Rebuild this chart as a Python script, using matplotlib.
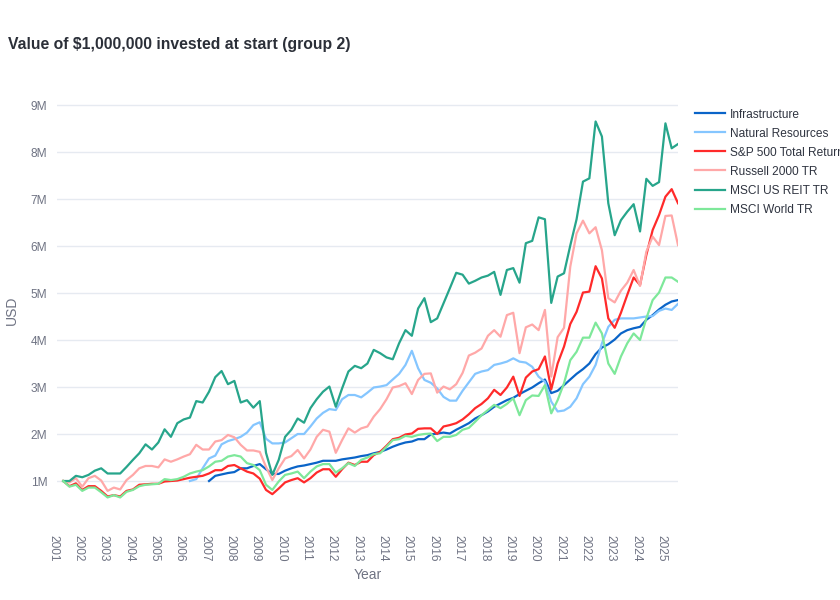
import matplotlib
matplotlib.use("Agg")
import matplotlib.pyplot as plt
import matplotlib.dates as mdates
from matplotlib.ticker import FixedLocator, FuncFormatter
from matplotlib.transforms import ScaledTranslation
import numpy as np
import pandas as pd

plt.rcParams['font.family'] = ['Liberation Sans', 'DejaVu Sans']

# quarter-end dates, values in millions of USD
quarters = pd.date_range("2001-03-31", periods=98, freq="QE")

infra_start = 23
infrastructure = [
    1.00, 1.11, 1.14, 1.17, 1.19, 1.27, 1.27,
    1.32, 1.36, 1.25, 1.15, 1.15, 1.22, 1.27, 1.31, 1.33, 1.36,
    1.39, 1.43, 1.43, 1.43, 1.46, 1.48, 1.50, 1.53, 1.55, 1.59,
    1.62, 1.67, 1.73, 1.78, 1.82, 1.84, 1.89, 1.89, 1.99, 2.01,
    2.03, 2.01, 2.09, 2.16, 2.23, 2.33, 2.40, 2.48, 2.58, 2.65,
    2.72, 2.77, 2.85, 2.92, 2.99, 3.08, 3.16, 2.87, 2.92, 3.04,
    3.16, 3.28, 3.38, 3.50, 3.70, 3.84, 3.91, 4.01, 4.14, 4.21,
    4.25, 4.28, 4.43, 4.53, 4.65, 4.75, 4.82, 4.85,
]

natres_start = 20
natural_resources = [
    1.00, 1.04, 1.27, 1.48, 1.54, 1.78, 1.85, 1.89, 1.94, 2.03,
    2.19, 2.25, 1.90, 1.80, 1.80, 1.82, 1.91, 2.00, 2.00, 2.16,
    2.33, 2.45, 2.53, 2.51, 2.74, 2.83, 2.83, 2.78, 2.88, 2.99,
    3.01, 3.04, 3.16, 3.28, 3.47, 3.77, 3.40, 3.15, 3.09, 2.97,
    2.79, 2.71, 2.71, 2.92, 3.10, 3.28, 3.33, 3.36, 3.47, 3.50,
    3.54, 3.61, 3.54, 3.52, 3.43, 3.22, 3.11, 2.69, 2.48, 2.50,
    2.58, 2.76, 3.06, 3.22, 3.47, 3.93, 4.28, 4.43, 4.46, 4.46,
    4.46, 4.48, 4.50, 4.51, 4.62, 4.67, 4.64, 4.77,
]

sp500 = [
    1.00, 0.89, 0.95, 0.81, 0.89, 0.89, 0.79, 0.67, 0.70, 0.67,
    0.79, 0.82, 0.92, 0.93, 0.94, 0.94, 0.99, 1.00, 1.01, 1.04,
    1.07, 1.09, 1.11, 1.16, 1.23, 1.23, 1.32, 1.34, 1.27, 1.20,
    1.16, 1.05, 0.81, 0.72, 0.84, 0.97, 1.02, 1.06, 0.97, 1.06,
    1.18, 1.25, 1.25, 1.09, 1.25, 1.39, 1.34, 1.41, 1.41, 1.55,
    1.62, 1.75, 1.89, 1.92, 1.99, 2.01, 2.11, 2.12, 2.12, 2.00,
    2.16, 2.19, 2.23, 2.31, 2.42, 2.55, 2.64, 2.76, 2.94, 2.83,
    2.99, 3.22, 2.81, 3.20, 3.33, 3.38, 3.65, 2.95, 3.50, 3.86,
    4.34, 4.60, 5.01, 5.03, 5.57, 5.31, 4.46, 4.26, 4.58, 4.96,
    5.33, 5.17, 5.81, 6.34, 6.66, 7.05, 7.21, 6.91,
]

russell2000 = [
    1.00, 0.97, 1.06, 0.88, 1.06, 1.11, 1.01, 0.79, 0.86, 0.82,
    1.02, 1.13, 1.27, 1.32, 1.32, 1.29, 1.46, 1.41, 1.46, 1.52,
    1.57, 1.77, 1.67, 1.67, 1.84, 1.87, 1.98, 1.93, 1.77, 1.65,
    1.65, 1.62, 1.30, 1.02, 1.27, 1.48, 1.53, 1.66, 1.48, 1.67,
    1.94, 2.09, 2.05, 1.60, 1.87, 2.12, 2.03, 2.12, 2.16, 2.37,
    2.53, 2.74, 2.99, 3.02, 3.08, 2.85, 3.15, 3.28, 3.29, 2.88,
    3.01, 2.95, 3.06, 3.30, 3.67, 3.73, 3.82, 4.09, 4.21, 4.07,
    4.53, 4.58, 3.72, 4.27, 4.33, 4.21, 4.64, 3.22, 4.06, 4.26,
    5.56, 6.27, 6.54, 6.27, 6.40, 5.91, 4.89, 4.80, 5.05, 5.22,
    5.49, 5.15, 5.88, 6.20, 6.02, 6.64, 6.65, 6.02,
]

reit = [
    1.00, 1.00, 1.11, 1.08, 1.13, 1.22, 1.27, 1.16, 1.16, 1.16,
    1.30, 1.45, 1.59, 1.78, 1.67, 1.82, 2.10, 1.94, 2.23, 2.31,
    2.35, 2.70, 2.67, 2.90, 3.21, 3.34, 3.06, 3.13, 2.67, 2.72,
    2.56, 2.70, 1.60, 1.13, 1.45, 1.94, 2.09, 2.33, 2.24, 2.55,
    2.74, 2.90, 3.01, 2.58, 2.97, 3.33, 3.45, 3.40, 3.50, 3.79,
    3.72, 3.63, 3.59, 3.93, 4.21, 4.09, 4.67, 4.89, 4.38, 4.46,
    4.78, 5.10, 5.43, 5.39, 5.20, 5.26, 5.33, 5.37, 5.45, 4.96,
    5.49, 5.53, 5.22, 6.06, 6.11, 6.61, 6.57, 4.79, 5.35, 5.42,
    6.01, 6.57, 7.37, 7.44, 8.65, 8.33, 6.91, 6.23, 6.55, 6.73,
    6.89, 6.31, 7.43, 7.28, 7.36, 8.61, 8.08, 8.17,
]

world = [
    1.00, 0.88, 0.92, 0.79, 0.86, 0.86, 0.76, 0.65, 0.70, 0.65,
    0.77, 0.81, 0.89, 0.92, 0.93, 0.94, 1.04, 1.02, 1.04, 1.09,
    1.16, 1.20, 1.23, 1.31, 1.41, 1.43, 1.52, 1.55, 1.52, 1.38,
    1.34, 1.23, 0.92, 0.81, 0.99, 1.13, 1.16, 1.20, 1.06, 1.20,
    1.31, 1.36, 1.36, 1.18, 1.27, 1.38, 1.32, 1.45, 1.50, 1.57,
    1.59, 1.73, 1.87, 1.89, 1.96, 1.94, 1.98, 2.00, 2.01, 1.85,
    1.94, 1.94, 1.98, 2.09, 2.13, 2.26, 2.40, 2.51, 2.62, 2.55,
    2.64, 2.76, 2.40, 2.72, 2.82, 2.81, 3.04, 2.44, 2.72, 3.08,
    3.57, 3.75, 4.05, 4.05, 4.37, 4.14, 3.50, 3.28, 3.65, 3.93,
    4.14, 4.00, 4.46, 4.85, 5.01, 5.33, 5.33, 5.24,
]


def pad(vals, start=0):
    return np.array([np.nan] * start + list(vals)) * 1e6


series = [
    ("Infrastructure", pad(infrastructure, infra_start), "#0a64c8"),
    ("Natural Resources", pad(natural_resources, natres_start), "#85c6ff"),
    ("S&P 500 Total Return", pad(sp500), "#ff2a2a"),
    ("Russell 2000 TR", pad(russell2000), "#ffa8a8"),
    ("MSCI US REIT TR", pad(reit), "#27a58b"),
    ("MSCI World TR", pad(world), "#7ee89a"),
]

fig = plt.figure(figsize=(8.4, 6.0), dpi=100)
ax = fig.add_axes([57 / 840, 1 - 518.6 / 600, 621 / 840, 417.8 / 600])

for name, vals, color in series:
    ax.plot(quarters, vals, color=color, lw=1.6, label=name)

ax.set_xlim(pd.Timestamp("2001-01-01"), quarters[-1])
ax.set_ylim(0.2e6, 9.09e6)
ax.yaxis.set_major_locator(FixedLocator([i * 1e6 for i in range(1, 10)]))
ax.yaxis.set_major_formatter(FuncFormatter(lambda v, p: f"{v / 1e6:.0f}M"))
ax.xaxis.set_major_locator(mdates.YearLocator())
ax.xaxis.set_major_formatter(mdates.DateFormatter("%Y"))

ax.grid(axis='y', color='#e6eaf1', lw=1)
ax.set_axisbelow(True)
for s in ax.spines.values():
    s.set_visible(False)
ax.tick_params(length=0, labelsize=8.6, colors='#6f7383')
ax.tick_params(axis='x', pad=11.8, labelrotation=-90)
ax.tick_params(axis='y', pad=7)

# year labels sit a little left of their ticks in the reference
shift = ScaledTranslation(-4 / 100, 0, fig.dpi_scale_trans)
for lbl in ax.get_xticklabels():
    lbl.set_transform(lbl.get_transform() + shift)

ax.legend(loc='upper left', bbox_to_anchor=(695 / 840, 1 - 108.5 / 600),
          bbox_transform=fig.transFigure, frameon=False, fontsize=8.6,
          handlelength=2.5, handletextpad=0.45, labelspacing=0.59,
          borderpad=0, borderaxespad=0, labelcolor='#2f3440')

fig.text(8 / 840, 1 - 45 / 600, "Value of \\$1,000,000 invested at start (group 2)",
         fontsize=11.3, fontweight='bold', va='center', ha='left', color='#2b2f38')
fig.text(12 / 840, 1 - 310 / 600, "USD", rotation=90, fontsize=10,
         color='#6f7383', ha='center', va='center')
fig.text(367.5 / 840, 1 - 575 / 600, "Year", fontsize=10,
         color='#6f7383', ha='center', va='center')

fig.savefig("out.png", dpi=100)
